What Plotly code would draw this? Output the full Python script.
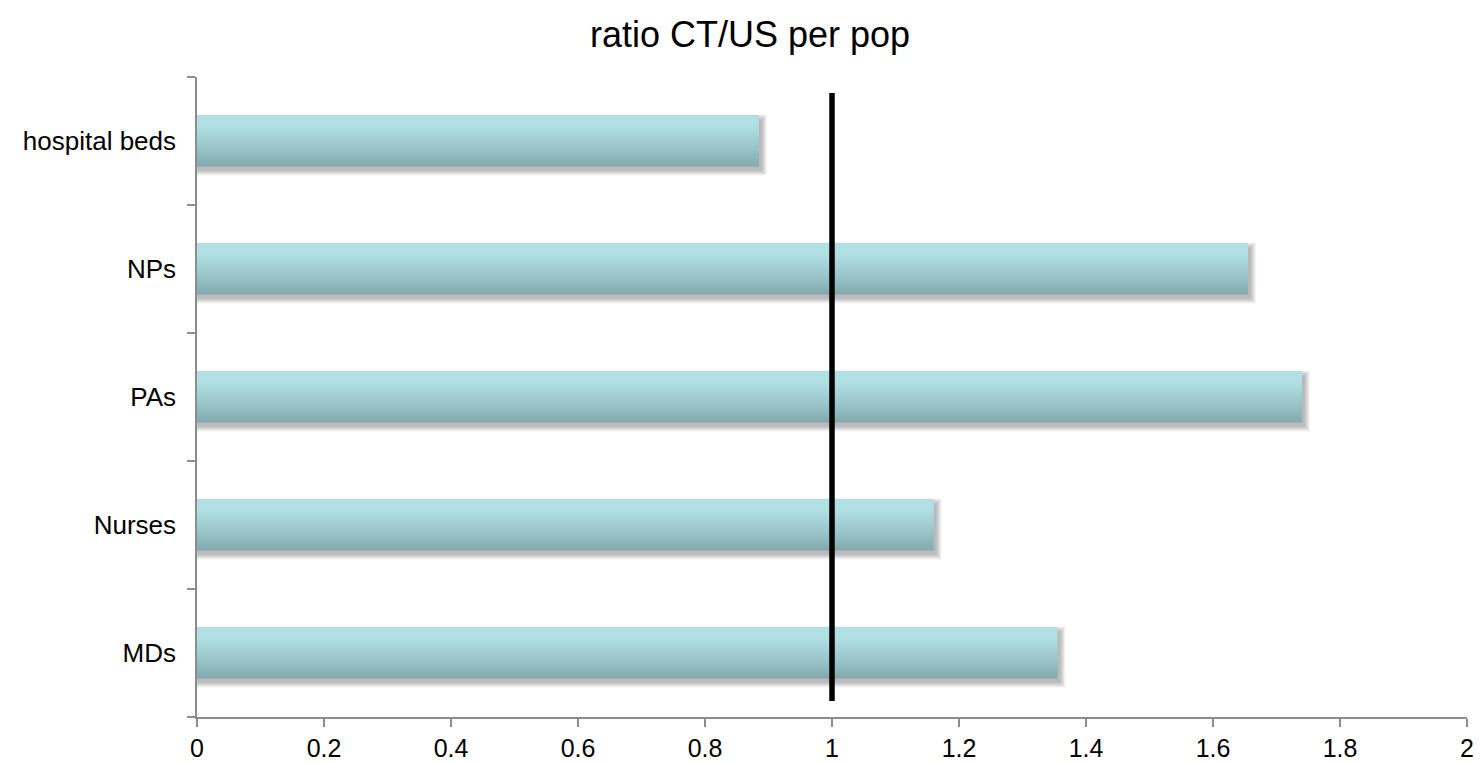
import plotly.graph_objects as go

# Categories listed bottom-to-top as they appear on the axis
categories = ["MDs", "Nurses", "PAs", "NPs", "hospital beds"]
ratios = [1.355, 1.16, 1.74, 1.655, 0.885]

x_ticks = [0, 0.2, 0.4, 0.6, 0.8, 1, 1.2, 1.4, 1.6, 1.8, 2]
x_tick_text = ["0", "0.2", "0.4", "0.6", "0.8", "1", "1.2", "1.4", "1.6", "1.8", "2"]

title_text = "ratio CT/US per pop"
reference_ratio = 1

W, H = 1482, 763
M_L, M_R, M_T, M_B = 197, 15, 77, 46
plot_w = W - M_L - M_R
plot_h = H - M_T - M_B
px_x = 2.0 / plot_w                 # x units per pixel
px_y = len(categories) / plot_h     # category units per pixel

BAR_W = 0.4
TOP_RGB = (176, 224, 228)
BOT_RGB = (131, 170, 174)

fig = go.Figure()

# soft drop shadow under each bar
for k in range(5):
    grow = k * 1.2
    fig.add_trace(go.Bar(
        y=categories,
        x=[v + (3 + grow) * px_x for v in ratios],
        orientation="h",
        width=BAR_W + 2 * grow * px_y,
        offset=-BAR_W / 2 - grow * px_y - 4 * px_y,
        marker=dict(color="rgba(0,0,0,0.06)", line=dict(width=0)),
        hoverinfo="skip",
        showlegend=False,
    ))

# vertical gradient: bars built from thin horizontal slices, dark at bottom to light at top
N = 32
step = BAR_W / N
for i in range(N):
    t = i / (N - 1)
    t = min(1.0, t / 0.8)           # top part stays light
    t = t ** 0.9
    r = round(BOT_RGB[0] + (TOP_RGB[0] - BOT_RGB[0]) * t)
    g = round(BOT_RGB[1] + (TOP_RGB[1] - BOT_RGB[1]) * t)
    b = round(BOT_RGB[2] + (TOP_RGB[2] - BOT_RGB[2]) * t)
    w = step * (1.6 if i < N - 1 else 1.0)
    fig.add_trace(go.Bar(
        y=categories,
        x=ratios,
        orientation="h",
        width=w,
        offset=-BAR_W / 2 + i * step,
        marker=dict(color=f"rgb({r},{g},{b})", line=dict(width=0)),
        hovertemplate="%{y}: %{x}<extra></extra>" if i == 0 else None,
        hoverinfo=None if i == 0 else "skip",
        showlegend=False,
    ))

# reference line at ratio = 1
fig.add_shape(type="line", xref="x", yref="paper",
              x0=reference_ratio, x1=reference_ratio, y0=0.025, y1=0.975,
              line=dict(color="black", width=5.5))

axis_font = dict(family="Liberation Sans, Arial, sans-serif", size=26, color="black")
x_font = dict(family="Liberation Sans, Arial, sans-serif", size=25, color="black")

fig.update_layout(
    width=W, height=H,
    margin=dict(l=M_L, r=M_R, t=M_T, b=M_B),
    paper_bgcolor="white",
    plot_bgcolor="white",
    barmode="overlay",
    showlegend=False,
    title=dict(text=title_text, x=750 / W, xanchor="center",
               y=1 - 34 / H, yanchor="middle", yref="container",
               font=dict(family="Liberation Sans, Arial, sans-serif", size=36, color="black")),
    xaxis=dict(range=[0, 2], tickvals=x_ticks, ticktext=x_tick_text,
               automargin=False,
               showgrid=False, zeroline=False,
               showline=True, linecolor="#8c8c8c", linewidth=1.5,
               ticks="outside", ticklen=8, tickcolor="#8c8c8c", tickwidth=1.5,
               tickfont=x_font),
    yaxis=dict(type="category", categoryorder="array", categoryarray=categories,
               range=[-0.5, len(categories) - 0.5],
               automargin=False,
               showgrid=False, zeroline=False,
               showline=True, linecolor="#8c8c8c", linewidth=1.5,
               ticks="outside", ticklen=8, tickcolor="#8c8c8c", tickwidth=1.5,
               tickson="boundaries", ticklabelstandoff=14, tickfont=axis_font),
)

fig.write_html("out.html")
